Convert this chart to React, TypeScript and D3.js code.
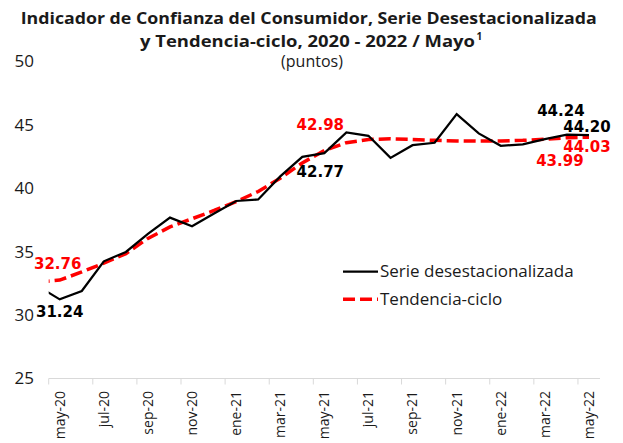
import React from "react";
import * as d3 from "d3";

// Categories (first one, abr-20, lies just outside the plotted range and is clipped)
const categories = [
  "abr-20", "may-20", "jun-20", "jul-20", "ago-20", "sep-20", "oct-20", "nov-20", "dic-20",
  "ene-21", "feb-21", "mar-21", "abr-21", "may-21", "jun-21", "jul-21", "ago-21", "sep-21",
  "oct-21", "nov-21", "dic-21", "ene-22", "feb-22", "mar-22", "abr-22", "may-22",
];

const serieDesest = [
  32.3, 31.24, 31.9, 34.24, 34.98, 36.4, 37.69, 37.01, 38.01, 39.0, 39.12, 40.94, 42.48,
  42.77, 44.41, 44.14, 42.4, 43.4, 43.59, 45.85, 44.33, 43.35, 43.46, 43.88, 44.24, 44.2,
];

const tendencia = [
  32.6, 32.76, 33.4, 34.1, 34.85, 36.05, 36.95, 37.6, 38.25, 38.95, 39.75, 40.8, 42.0,
  42.98, 43.6, 43.85, 43.9, 43.85, 43.78, 43.74, 43.72, 43.73, 43.78, 43.87, 43.99, 44.03,
];

const yTicks = [25, 30, 35, 40, 45, 50];
const xTickLabels = ["may-20", "jul-20", "sep-20", "nov-20", "ene-21", "mar-21", "may-21", "jul-21", "sep-21", "nov-21", "ene-22", "mar-22", "may-22"];

const titleLine1 = "Indicador de Confianza del Consumidor, Serie Desestacionalizada";
const titleLine2 = "y Tendencia-ciclo, 2020 - 2022 / Mayo";
const titleNote = "1";
const subtitle = "(puntos)";
const legendNames = ["Serie desestacionalizada", "Tendencia-ciclo"];

// data labels: which series, which category
const labelSpecs = [
  { series: 0, cat: "may-20", dx: 0, dy: 12 },
  { series: 1, cat: "may-20", dx: -2, dy: -16 },
  { series: 1, cat: "may-21", dx: -4, dy: -26 },
  { series: 0, cat: "may-21", dx: -4, dy: 19 },
  { series: 0, cat: "abr-22", dx: -6, dy: -24 },
  { series: 0, cat: "may-22", dx: -2, dy: -8.5 },
  { series: 1, cat: "may-22", dx: -2, dy: 9.5 },
  { series: 1, cat: "abr-22", dx: -7, dy: 23 },
];

const FONT = "'Open Sans', 'DejaVu Sans', sans-serif";
const LABEL_FONT = "'DejaVu Sans', sans-serif";
const W = 623;
const H = 443;
const PL = 48.7;
const PR = 600;

export default function App() {
  const x = d3.scaleLinear().domain([0.5, categories.length - 0.5]).range([PL, PR]);
  const y = d3.scaleLinear().domain([25, 50]).range([378.5, 61.5]);

  const line = d3
    .line<number>()
    .x((_, i) => x(i))
    .y((d) => y(d));

  const seriesVals = [serieDesest, tendencia];
  const seriesColors = ["#000000", "#ff0000"];

  const tickIdx = d3.range(0.5, categories.length, 2);

  return (
    <svg width={W} height={H} style={{ position: "absolute", left: 0, top: 0 }} fontFamily={FONT}>
      <rect width={W} height={H} fill="#ffffff" />
      <defs>
        <clipPath id="plotClip">
          <rect x={PL} y={0} width={PR - PL} height={H} />
        </clipPath>
      </defs>

      {/* Title */}
      <text x={20.7} y={24} textLength={576} lengthAdjust="spacingAndGlyphs" fontWeight="bold" fontSize={16.5} fill="#1a1a1a">
        {titleLine1}
      </text>
      <text x={140} y={46.7} textLength={335} lengthAdjust="spacingAndGlyphs" fontWeight="bold" fontSize={16.5} fill="#1a1a1a">
        {titleLine2}
      </text>
      <text x={476.5} y={40} fontWeight="bold" fontSize={10} fill="#1a1a1a">
        {titleNote}
      </text>
      <text x={312} y={67} textAnchor="middle" fontSize={16} fill="#1a1a1a">
        {subtitle}
      </text>

      {/* Y labels */}
      {yTicks.map((t) => (
        <text key={t} x={34} y={y(t)} dy="0.35em" textAnchor="end" fontSize={17} fill="#1a1a1a">
          {t}
        </text>
      ))}

      {/* X axis */}
      <line x1={PL} x2={PR} y1={y(25)} y2={y(25)} stroke="#d9d9d9" strokeWidth={1} />
      {tickIdx.map((t) => (
        <line key={t} x1={x(t)} x2={x(t)} y1={y(25)} y2={y(25) + 6} stroke="#d9d9d9" strokeWidth={1} />
      ))}
      {xTickLabels.map((lab) => {
        const i = categories.indexOf(lab);
        return (
          <text
            key={lab}
            transform={`translate(${x(i)},${391}) rotate(-90)`}
            textAnchor="end"
            dy="0.35em"
            fontSize={14}
            fill="#1a1a1a"
          >
            {lab}
          </text>
        );
      })}

      {/* Lines */}
      <g clipPath="url(#plotClip)">
        <path d={line(tendencia) || ""} fill="none" stroke="#ff0000" strokeWidth={3.5} strokeDasharray="12 5" />
        <path d={line(serieDesest) || ""} fill="none" stroke="#000000" strokeWidth={2.25} strokeLinejoin="miter" />
      </g>

      {/* Data labels */}
      {labelSpecs.map((s, k) => {
        const i = categories.indexOf(s.cat);
        const v = seriesVals[s.series][i];
        return (
          <text
            key={k}
            x={x(i) + s.dx}
            y={y(v) + s.dy}
            dy="0.35em"
            textAnchor="middle"
            fontWeight="bold"
            fontSize={15}
            fontFamily={LABEL_FONT}
            fill={seriesColors[s.series]}
          >
            {v.toFixed(2)}
          </text>
        );
      })}

      {/* Legend */}
      {legendNames.map((name, k) => {
        const ly = 271.5 + k * 27.8;
        return (
          <g key={name}>
            <line
              x1={343}
              x2={378}
              y1={ly}
              y2={ly}
              stroke={seriesColors[k]}
              strokeWidth={k === 0 ? 2.25 : 3.5}
              strokeDasharray={k === 0 ? undefined : "12 5"}
            />
            <text x={380} y={ly} dy="0.35em" fontSize={17} fill="#1a1a1a">
              {name}
            </text>
          </g>
        );
      })}
    </svg>
  );
}
